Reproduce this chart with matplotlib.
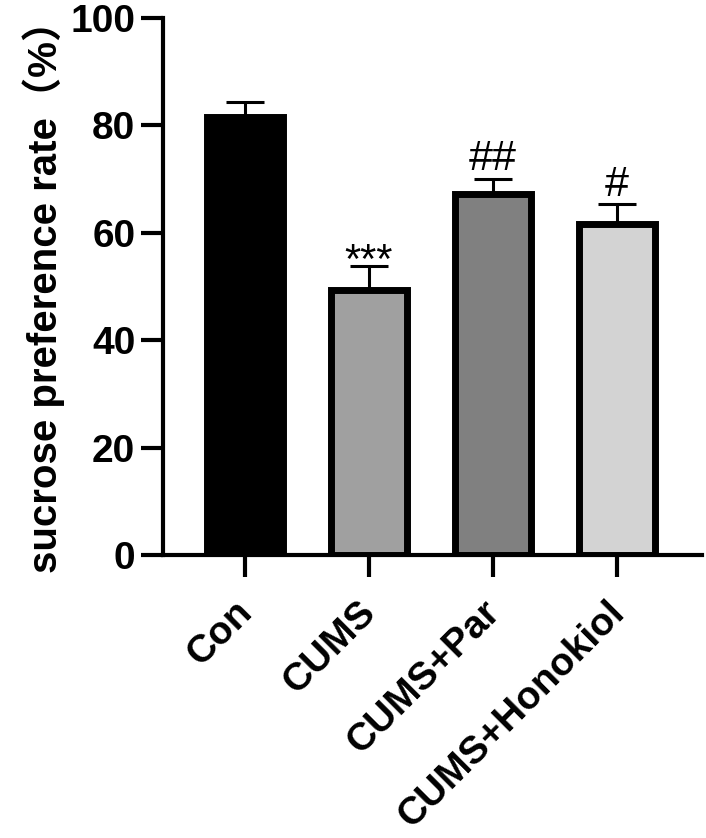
import matplotlib
matplotlib.use("Agg")
import matplotlib.pyplot as plt
import matplotlib.transforms as mtransforms

categories = ["Con", "CUMS", "CUMS+Par", "CUMS+Honokiol"]
means = [81.6, 49.4, 67.2, 61.6]
errors = [2.8, 4.4, 2.9, 3.7]
marks = ["", "***", "##", "#"]
colors = ["#000000", "#a0a0a0", "#808080", "#d3d3d3"]
yticks = [0, 20, 40, 60, 80, 100]

plt.rcParams['font.family'] = ['Liberation Sans', 'Noto Sans CJK SC', 'DejaVu Sans']

fig = plt.figure(figsize=(7.06, 8.38), dpi=100)
ax = fig.add_axes([0.231, 0.3375, 0.764, 0.6410])

x = list(range(len(categories)))
ax.bar(x, means, width=0.61, color=colors, edgecolor="black", linewidth=5, zorder=2)
ax.errorbar(x, means, yerr=[[0]*len(errors), errors], fmt="none", ecolor="black",
            elinewidth=2.2, capsize=14, capthick=2.2, zorder=1)

for xi, m, e, s in zip(x, means, errors, marks):
    if not s:
        continue
    dy = -5 if s.startswith("*") else 6
    ax.annotate(s, xy=(xi, m + e), xytext=(0, dy), textcoords="offset points",
                ha="center", va="baseline", fontsize=31 if s.startswith("#") else 30,
                family=["Liberation Sans"])

ax.set_xlim(-0.66, 3.69)
ax.set_ylim(0, 100)
ax.set_yticks(yticks)
ax.set_yticklabels([str(t) for t in yticks], fontsize=28, fontweight="bold")
ax.set_xticks(x)
ax.tick_params(axis="y", length=16, width=3, pad=4)
ax.tick_params(axis="x", length=16, width=3, pad=12)
ax.set_xticklabels(categories, fontsize=28, fontweight="bold", rotation=45,
                   ha="right", rotation_mode="anchor")
offset = mtransforms.ScaledTranslation(-11 / 100, 0, fig.dpi_scale_trans)
for lbl in ax.get_xticklabels():
    lbl.set_transform(lbl.get_transform() + offset)
for sp in ["top", "right"]:
    ax.spines[sp].set_visible(False)
for sp in ["left", "bottom"]:
    ax.spines[sp].set_linewidth(3)
ax.set_ylabel("sucrose preference rate（%）", fontsize=29, fontweight="bold", labelpad=4)

fig.savefig("out.png", dpi=100)
